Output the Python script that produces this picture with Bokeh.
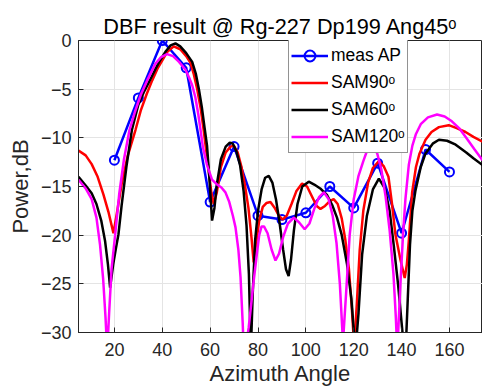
from bokeh.plotting import figure
from bokeh.models import Range1d, Legend, LegendItem, FixedTicker, Title
from bokeh.embed import file_html
from bokeh.resources import INLINE

# ---------------- data ----------------
x_ticks = [20, 40, 60, 80, 100, 120, 140, 160]
y_ticks = [-30, -25, -20, -15, -10, -5, 0]

meas_angle = [20, 30, 40, 50, 60, 70, 80, 90, 100, 110, 120, 130, 140, 150, 160]
meas_power = [-12.3, -5.9, 0.0, -2.8, -16.6, -10.9, -18.0, -18.4, -17.7, -15.0,
              -17.2, -12.6, -19.8, -11.2, -13.5]

sam90_angle = [5, 8, 10.5, 13, 15.4, 17.5, 19.6, 21, 23, 25.5, 28.8, 31, 33.5, 35.8, 38,
               39.9, 42, 44.8, 47.5, 50, 51.8, 53.1, 54.6, 56, 57.3, 58.1, 59.5, 60.5,
               61.5, 62.8, 64.5, 66.5, 68.5, 69.9, 71.5, 73, 74.5, 76, 77.3, 78.2, 79.2,
               80.5, 82, 83.5, 85.2, 87, 88.7, 90.3, 92, 94, 96, 98.4, 100.5, 102.5,
               104.5, 106.1, 108, 110, 111.6, 113.3, 115, 116.5, 118, 119.2, 120.2,
               121.3, 122.5, 124, 126, 128, 130.5, 132.5, 134.5, 136, 137.4, 139.5,
               141.3, 142.2, 143, 144.4, 146, 147.5, 150, 152.5, 155.6, 159.7, 163,
               166.7, 170, 173.8]
sam90_power = [-11.3, -11.8, -12.7, -14.0, -15.8, -17.6, -19.8, -17.8, -14.8, -11.9,
               -9.2, -7.2, -5.5, -4.1, -2.9, -2.1, -1.2, -0.6, -0.9, -1.6, -2.3, -3.4,
               -5.0, -6.9, -9.2, -10.8, -13.6, -15.6, -16.8, -15.6, -13.0, -11.5, -10.9,
               -10.8, -11.5, -12.9, -14.8, -17.2, -20.3, -22.8, -20.9, -18.5, -17.1,
               -16.7, -16.6, -17.2, -18.0, -18.4, -18.0, -16.8, -15.5, -14.7, -15.0,
               -16.0, -17.0, -17.3, -17.0, -16.5, -16.3, -16.8, -18.3, -20.5, -23.5,
               -27.5, -31.5, -27.0, -21.5, -17.5, -14.6, -13.1, -12.4, -12.9, -14.0,
               -16.8, -19.9, -22.5, -24.4, -23.0, -20.6, -15.6, -13.0, -11.6, -10.2,
               -9.4, -8.9, -8.7, -9.0, -9.4, -9.9, -10.4]

sam60_angle = [5, 8, 10.5, 12.5, 14.5, 16.1, 17.3, 18.2, 19.5, 20.6, 21.7, 23, 25, 27.3,
               30, 32.5, 35, 37, 39.2, 41.5, 43.5, 45.5, 47.5, 50, 52.5, 54, 55.3, 56.5,
               57.7, 58.7, 59.7, 60.8, 61.8, 62.8, 64.5, 66.5, 68.2, 69.5, 71, 72.5, 74,
               75.2, 76.2, 77, 77.8, 78.8, 80, 81.5, 83, 84.5, 86, 87.5, 89, 90.5, 91.7,
               92.8, 93.8, 95, 96.5, 98.5, 101.2, 103.5, 106, 108.9, 111, 113, 115,
               117.2, 119, 120.7, 122, 123.5, 125.5, 128, 130.5, 133, 135, 136.7, 138.5,
               140, 141.5, 142.5, 143.5, 144.5, 145.8, 148, 150, 153, 155.6, 159, 162.6,
               167, 170, 173.8]
sam60_power = [-14.0, -14.9, -15.7, -16.8, -18.5, -20.6, -23.0, -25.4, -23.0, -21.4,
               -19.9, -17.0, -13.0, -9.2, -6.6, -5.2, -4.0, -3.0, -2.0, -1.1, -0.5, -0.3,
               -0.6, -1.3, -2.2, -3.4, -5.0, -6.8, -9.0, -10.8, -14.2, -18.5, -17.2,
               -14.8, -12.2, -10.9, -10.5, -10.6, -11.4, -12.8, -15.5, -19.0, -24.0,
               -32.0, -26.0, -20.5, -17.5, -15.3, -14.1, -13.9, -14.6, -16.3, -18.7,
               -21.5, -23.5, -24.2, -22.5, -19.5, -16.8, -15.0, -14.5, -14.8, -15.2,
               -15.9, -16.9, -18.2, -20.0, -23.0, -26.5, -32.0, -28.0, -22.0, -18.0,
               -15.3, -14.2, -15.2, -17.5, -21.0, -25.0, -29.0, -33.0, -27.0, -21.0,
               -17.5, -15.4, -13.0, -11.6, -10.6, -10.2, -10.3, -10.7, -11.5, -12.1,
               -12.8]

sam120_angle = [5, 8, 10.5, 12.5, 14, 15.3, 16.3, 17, 17.8, 18.8, 20.3, 22, 24, 26.3,
                28.5, 31, 33.7, 37.1, 39.5, 42, 44.5, 47, 49.7, 51.2, 52.5, 53.8, 55, 56,
                57, 58.7, 60.8, 62.9, 64.7, 66.4, 68, 69.5, 70.6, 71.8, 72.7, 73.6, 74.2,
                75.2, 76.1, 77.2, 78.2, 79.5, 80.5, 81.5, 82.5, 84, 85.7, 87.3, 88.8,
                90.5, 92.5, 95, 97.2, 99.5, 101.5, 103.5, 105.5, 107.5, 109.5, 111.2,
                112.8, 114.2, 115.5, 116.8, 118.3, 120, 122, 124, 125.6, 127.6, 129.8,
                131.5, 133.3, 135, 136.6, 137.6, 138.2, 139.5, 140.7, 141.6, 143, 144.5,
                146, 148, 151, 154.8, 158, 161, 164, 167, 170.5, 173.8]
sam120_power = [-14.3, -15.2, -16.3, -18.2, -21.0, -24.5, -28.5, -32.0, -28.0, -23.5,
                -20.0, -15.8, -12.2, -9.2, -7.4, -5.6, -4.1, -2.4, -1.7, -1.4, -1.6, -2.2,
                -3.0, -3.8, -4.6, -5.8, -7.5, -9.2, -11.0, -12.8, -14.3, -14.8, -15.1,
                -15.6, -16.6, -18.0, -19.2, -21.5, -24.3, -29.0, -33.0, -31.0, -29.5,
                -27.0, -24.7, -22.0, -20.0, -19.1, -19.1, -19.8, -21.5, -22.6, -21.9,
                -20.2, -18.8, -18.2, -18.7, -19.4, -18.8, -17.3, -16.1, -15.6, -16.3,
                -18.0, -20.8, -25.0, -31.0, -26.0, -20.0, -16.3, -13.9, -12.4, -11.3,
                -10.6, -11.6, -13.2, -16.0, -19.5, -24.0, -28.5, -32.0, -25.0, -19.5,
                -16.3, -12.8, -10.8, -9.6, -8.6, -7.9, -7.6, -7.8, -8.3, -9.0, -10.0,
                -11.2, -12.3]

title_text = "DBF result @ Rg-227 Dp199 Ang45\u1d52"
x_label = "Azimuth Angle"
y_label = "Power,dB"
series_labels = ["meas AP", "SAM90\u1d52", "SAM60\u1d52", "SAM120\u1d52"]

FONT = "Liberation Sans"
AX = "#262626"

p = figure(width=482, height=392, output_backend="svg", toolbar_location=None,
           x_range=Range1d(5, 173.8), y_range=Range1d(-30, 0),
           min_border_left=78, min_border_right=0, min_border_top=40,
           min_border_bottom=60, background_fill_color="white",
           border_fill_color="white", title=None)
p.outline_line_color = AX
p.outline_line_width = 1

for ax in (p.xaxis[0], p.yaxis[0]):
    ax.major_tick_in = 5
    ax.major_tick_out = 0
    ax.minor_tick_in = 0
    ax.minor_tick_out = 0
    ax.axis_line_color = AX
    ax.axis_line_width = 1
    ax.major_tick_line_color = AX
    ax.major_label_text_font = FONT
    ax.major_label_text_font_size = "18px"
    ax.major_label_text_color = AX
    ax.axis_label_text_font = FONT
    ax.axis_label_text_font_size = "22px"
    ax.axis_label_text_font_style = "normal"
    ax.axis_label_text_color = AX
p.xaxis.ticker = FixedTicker(ticks=x_ticks)
p.yaxis.ticker = FixedTicker(ticks=y_ticks)
p.xaxis.major_label_standoff = 10
p.yaxis.major_label_standoff = 7
p.xaxis.axis_label = x_label
p.yaxis.axis_label = y_label
p.xaxis.axis_label_standoff = 2
p.yaxis.axis_label_standoff = 5

p.xgrid.grid_line_color = "#e4e4e4"
p.ygrid.grid_line_color = "#e4e4e4"
p.xgrid.ticker = FixedTicker(ticks=x_ticks)
p.ygrid.ticker = FixedTicker(ticks=y_ticks)

LW = 2.5
r_ml = p.line(meas_angle, meas_power, line_color="#0000ff", line_width=LW)
r_mc = p.scatter(meas_angle, meas_power, marker="circle", size=9, line_color="#0000ff",
                 line_width=2, fill_color=None)
r90 = p.line(sam90_angle, sam90_power, line_color="#ff0000", line_width=LW)
r60 = p.line(sam60_angle, sam60_power, line_color="#000000", line_width=LW)
r120 = p.line(sam120_angle, sam120_power, line_color="#ff00ff", line_width=LW)

legend = Legend(items=[LegendItem(label=series_labels[0], renderers=[r_ml, r_mc]),
                       LegendItem(label=series_labels[1], renderers=[r90]),
                       LegendItem(label=series_labels[2], renderers=[r60]),
                       LegendItem(label=series_labels[3], renderers=[r120])],
                location=(210, 179), orientation="vertical",
                glyph_width=37, glyph_height=27, label_height=27, label_standoff=3,
                spacing=0, padding=2, margin=0,
                border_line_color=AX, border_line_width=1,
                background_fill_color="white", background_fill_alpha=1,
                label_text_font=FONT, label_text_font_size="17.5px",
                label_text_color="#000000")
p.add_layout(legend)

p.add_layout(Title(text=title_text, align="center", text_font=FONT,
                   text_font_size="21.7px", text_font_style="normal",
                   text_color="#000000", standoff=4), "above")

open("out.html", "w").write(file_html(p, INLINE))
